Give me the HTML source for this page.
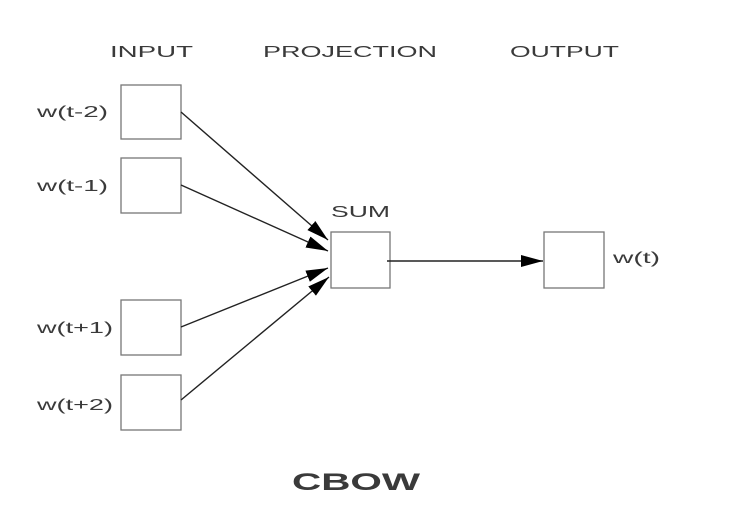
<!DOCTYPE html>
<html><head><meta charset="utf-8"><style>
html,body{margin:0;padding:0;background:#fff;width:733px;height:525px;overflow:hidden}
text{font-family:"Liberation Sans",sans-serif;fill:#3a3a3a}
</style></head><body>
<svg width="733" height="525" viewBox="0 0 733 525" xmlns="http://www.w3.org/2000/svg">
<defs>
<marker id="b" markerWidth="22" markerHeight="12" refX="22" refY="6" orient="auto" markerUnits="userSpaceOnUse" viewBox="0 0 22 12"><path d="M0,0 L22,6 L0,12 z" fill="#000"/></marker></defs>
<g font-size="16" lengthAdjust="spacingAndGlyphs">
<text x="110" y="57" textLength="83" lengthAdjust="spacingAndGlyphs">INPUT</text>
<text x="263" y="57" textLength="174" lengthAdjust="spacingAndGlyphs">PROJECTION</text>
<text x="510" y="57" textLength="109" lengthAdjust="spacingAndGlyphs">OUTPUT</text>
<text x="331" y="217" textLength="59" lengthAdjust="spacingAndGlyphs">SUM</text>
</g>
<g font-size="16">
<text x="37" y="117" textLength="71" lengthAdjust="spacingAndGlyphs">w(t-2)</text>
<text x="37" y="191" textLength="71" lengthAdjust="spacingAndGlyphs">w(t-1)</text>
<text x="37" y="333" textLength="76" lengthAdjust="spacingAndGlyphs">w(t+1)</text>
<text x="37" y="410" textLength="76" lengthAdjust="spacingAndGlyphs">w(t+2)</text>
<text x="613" y="263" textLength="47" lengthAdjust="spacingAndGlyphs">w(t)</text>
</g>
<g fill="#fff" stroke="#777" stroke-width="1.3">
<rect x="121" y="85" width="60" height="54"/>
<rect x="121" y="158" width="60" height="55"/>
<rect x="121" y="300" width="60" height="55"/>
<rect x="121" y="375" width="60" height="55"/>
<rect x="331" y="232" width="59" height="56"/>
<rect x="544" y="232" width="60" height="56"/>
</g>
<g stroke="#222" stroke-width="1.4" fill="none">
<line x1="181" y1="112" x2="328" y2="240" marker-end="url(#b)"/>
<line x1="181" y1="185" x2="328" y2="251" marker-end="url(#b)"/>
<line x1="181" y1="327" x2="328" y2="268" marker-end="url(#b)"/>
<line x1="181" y1="400" x2="329" y2="277" marker-end="url(#b)"/>
<line x1="387" y1="261" x2="543" y2="261" marker-end="url(#b)"/>
</g>
<text x="292" y="490" font-size="24" font-weight="bold" textLength="128" lengthAdjust="spacingAndGlyphs">CBOW</text>
</svg>
</body></html>
